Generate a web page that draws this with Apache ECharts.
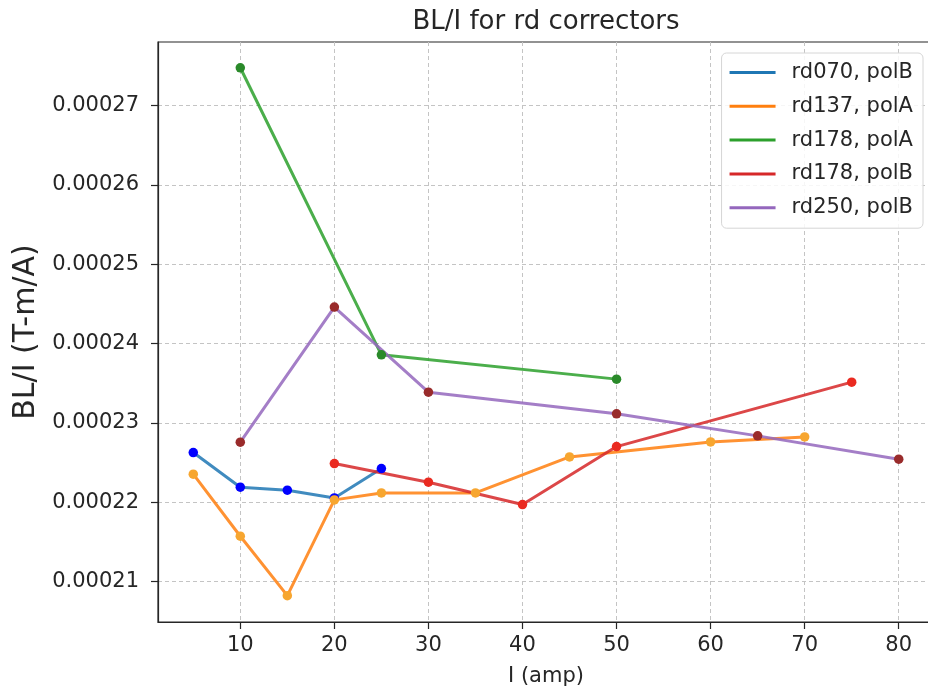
<!DOCTYPE html>
<html>
<head>
<meta charset="utf-8">
<script src="https://cdn.jsdelivr.net/npm/echarts@6/dist/echarts.min.js"></script>
<style>
  html, body { margin: 0; padding: 0; background: #fff; }
  #chart { width: 928px; height: 692px; }
</style>
</head>
<body>
<div id="chart"></div>
<script>
// values
var names = ['rd070, polB', 'rd137, polA', 'rd178, polA', 'rd178, polB', 'rd250, polB'];

var x070B = [5, 10, 15, 20, 25];
var y070B = [0.00022626, 0.00022189, 0.00022151, 0.00022054, 0.00022424];

var x137A = [5, 10, 15, 20, 25, 35, 45, 60, 70];
var y137A = [0.00022353, 0.00021571, 0.00020822, 0.00022029, 0.00022117, 0.00022117, 0.00022571, 0.00022760, 0.00022823];

var x178A = [10, 25, 50];
var y178A = [0.00027475, 0.00023857, 0.00023551];

var x178B = [20, 30, 40, 50, 75];
var y178B = [0.00022487, 0.00022252, 0.00021970, 0.00022701, 0.00023513];

var x250B = [10, 20, 30, 50, 65, 80];
var y250B = [0.00022757, 0.00024459, 0.00023387, 0.00023114, 0.00022836, 0.00022542];

var xTicks = [10, 20, 30, 40, 50, 60, 70, 80];
var yTicks = [0.00021, 0.00022, 0.00023, 0.00024, 0.00025, 0.00026, 0.00027];

var lineColors = ['#1f77b4', '#ff7f0e', '#2ca02c', '#d62728', '#9467bd'];
var dotColors = ['#0000ff', '#f7a630', '#2a8a2a', '#ea2a20', '#992b2b'];

var xs = [x070B, x137A, x178A, x178B, x250B];
var ys = [y070B, y137A, y178A, y178B, y250B];

function pairs(x, y) {
  var out = [];
  for (var i = 0; i < x.length; i++) out.push([x[i], y[i]]);
  return out;
}

var font = 'DejaVu Sans';
var txt = '#262626';

var series = names.map(function (n, i) {
  return {
    name: n,
    type: 'line',
    data: pairs(xs[i], ys[i]),
    symbol: 'circle',
    symbolSize: 9.5,
    showAllSymbol: true,
    lineStyle: { color: lineColors[i], width: 3, opacity: 0.85 },
    itemStyle: { color: dotColors[i] },
    emphasis: { disabled: true },
    animation: false
  };
});

var option = {
  backgroundColor: '#fff',
  animation: false,
  title: {
    text: 'BL/I for rd correctors',
    left: 541,
    textAlign: 'center',
    top: 4,
    textStyle: { fontFamily: font, fontSize: 26, fontWeight: 'normal', color: txt, lineHeight: 26 }
  },
  legend: {
    orient: 'vertical',
    right: 5,
    top: 53,
    icon: 'rect',
    itemWidth: 46,
    itemHeight: 3,
    itemGap: 12.8,
    padding: [9, 10, 10, 8],
    backgroundColor: 'rgba(255,255,255,0.85)',
    borderColor: '#d6d6d6',
    borderWidth: 1,
    borderRadius: 5,
    textStyle: { fontFamily: font, fontSize: 21, color: txt, lineHeight: 20, padding: [0, 0, 0, 11] },
    data: names.map(function (n, i) {
      return { name: n, itemStyle: { color: lineColors[i] } };
    })
  },
  grid: {
    left: 158,
    right: -6,
    top: 42,
    bottom: 70,
    containLabel: false,
    outerBoundsMode: 'none',
    show: true,
    borderColor: '#262626',
    borderWidth: 1.2,
    backgroundColor: 'transparent'
  },
  xAxis: {
    type: 'value',
    min: 1.25,
    max: 83.75,
    name: 'I (amp)',
    nameLocation: 'middle',
    nameGap: 44,
    nameTextStyle: { fontFamily: font, fontSize: 21, color: txt },
    axisLine: { show: true, onZero: false, lineStyle: { color: '#262626', width: 1.2 } },
    axisTick: { show: true, length: 7, inside: false, customValues: xTicks, lineStyle: { color: '#262626', width: 1.2 } },
    axisLabel: { customValues: xTicks, margin: 13, fontFamily: font, fontSize: 21, color: txt },
    splitLine: { show: true, lineStyle: { color: '#c4c4c4', type: [4, 3], width: 1 } }
  },
  yAxis: {
    type: 'value',
    min: 0.0002049,
    max: 0.0002780,
    name: 'BL/I (T-m/A)',
    nameLocation: 'middle',
    nameRotate: 90,
    nameGap: 117,
    nameTextStyle: { fontFamily: font, fontSize: 30, color: txt },
    axisLine: { show: true, onZero: false, lineStyle: { color: '#262626', width: 1.2 } },
    axisTick: { show: true, length: 7, inside: false, customValues: yTicks, lineStyle: { color: '#262626', width: 1.2 } },
    axisLabel: {
      customValues: yTicks,
      margin: 19,
      fontFamily: font,
      fontSize: 21,
      color: txt,
      formatter: function (v) { return v.toFixed(5); }
    },
    splitLine: { show: true, lineStyle: { color: '#c4c4c4', type: [4, 3], width: 1 } }
  },
  series: series
};

var chart = echarts.init(document.getElementById('chart'), null, { renderer: 'canvas' });
chart.setOption(option);
</script>
</body>
</html>
